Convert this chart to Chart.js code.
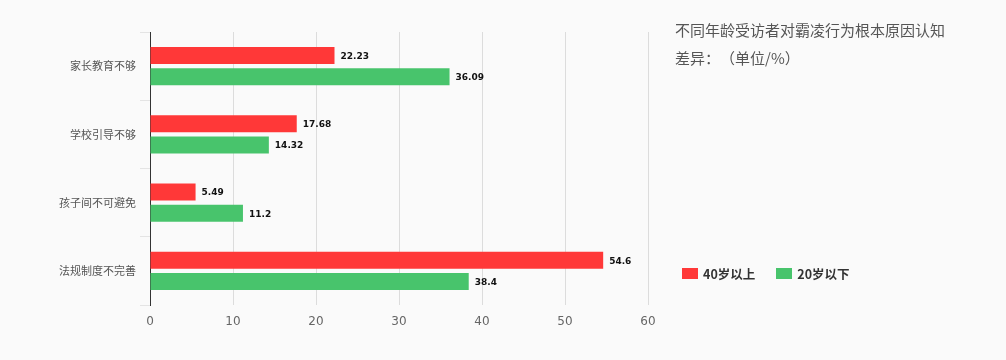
<!DOCTYPE html>
<html lang="zh">
<head>
<meta charset="UTF-8">
<title>霸凌行为根本原因认知差异</title>
<script src="https://cdn.jsdelivr.net/npm/chart.js"></script>
<style>
    body {
        margin: 0;
        background: #fafafa;
        font-family: "Noto Sans CJK SC", "DejaVu Sans", sans-serif;
    }
    .wrap {
        position: relative;
        width: 1006px;
        height: 360px;
    }
    .title {
        position: absolute;
        left: 675px;
        top: 16px;
        font-size: 15px;
        line-height: 28px;
        color: #555;
        text-spacing-trim: space-all;
    }
    .legend {
        position: absolute;
        left: 682px;
        top: 264px;
        display: flex;
        font-size: 12.5px;
        font-weight: bold;
        color: #333;
    }
    .legend span {
        display: flex;
        align-items: center;
        margin-right: 21px;
    }
    .legend i {
        display: inline-block;
        width: 16px;
        height: 11px;
        margin-right: 5px;
    }
</style>
</head>
<body>
<div class="wrap">
    <canvas id="chart" width="1006" height="360"></canvas>
    <div class="title">不同年龄受访者对霸凌行为根本原因认知<br>差异：（单位/%）</div>
    <div class="legend" id="legend"></div>
</div>

<script>
// data
const categories = ['家长教育不够', '学校引导不够', '孩子间不可避免', '法规制度不完善'];
const seriesNames = ['40岁以上', '20岁以下'];
const over40 = [22.23, 17.68, 5.49, 54.6];
const under20 = [36.09, 14.32, 11.2, 38.4];
const xTicks = [0, 10, 20, 30, 40, 50, 60];
const colors = ['#ff3838', '#48c46c'];

// draws the number at the end of each bar
const valueLabels = {
    id: 'valueLabels',
    afterDatasetsDraw(chart) {
        const ctx = chart.ctx;
        ctx.save();
        ctx.font = 'bold 9px "DejaVu Sans", sans-serif';
        ctx.fillStyle = '#111';
        ctx.textBaseline = 'middle';
        chart.data.datasets.forEach((ds, i) => {
            chart.getDatasetMeta(i).data.forEach((bar, j) => {
                ctx.fillText(String(ds.data[j]), bar.x + 6, bar.y + 1);
            });
        });
        ctx.restore();
    }
};

const ctx = document.getElementById('chart').getContext('2d');
new Chart(ctx, {
    type: 'bar',
    data: {
        labels: categories,
        datasets: [
            { label: seriesNames[0], data: over40, backgroundColor: colors[0] },
            { label: seriesNames[1], data: under20, backgroundColor: colors[1] }
        ]
    },
    options: {
        indexAxis: 'y',
        responsive: false,
        animation: false,
        categoryPercentage: 0.62,
        barPercentage: 0.8,
        layout: { padding: { top: 32, right: 358, left: 0, bottom: 0 } },
        plugins: {
            legend: { display: false },
            tooltip: { enabled: false }
        },
        scales: {
            x: {
                min: 0,
                max: 60,
                afterBuildTicks(scale) {
                    scale.ticks = xTicks.map(v => ({ value: v }));
                },
                afterFit(scale) { scale.height = 55; },
                border: { display: false },
                grid: { color: '#dcdcdc', drawTicks: false },
                ticks: { color: '#666', font: { size: 12, family: 'DejaVu Sans' }, padding: 10 }
            },
            y: {
                afterFit(scale) { scale.width = 150; },
                border: { color: '#333', width: 1 },
                grid: {
                    offset: true,
                    drawOnChartArea: false,
                    color: '#e4e4e4',
                    tickLength: 10
                },
                ticks: { color: '#555', font: { size: 11, family: 'Noto Sans CJK SC' }, padding: 4 }
            }
        }
    },
    plugins: [valueLabels]
});

// html legend built from the series
const legend = document.getElementById('legend');
seriesNames.forEach((name, i) => {
    const item = document.createElement('span');
    item.innerHTML = '<i style="background:' + colors[i] + '"></i>' + name;
    legend.appendChild(item);
});
</script>
</body>
</html>
